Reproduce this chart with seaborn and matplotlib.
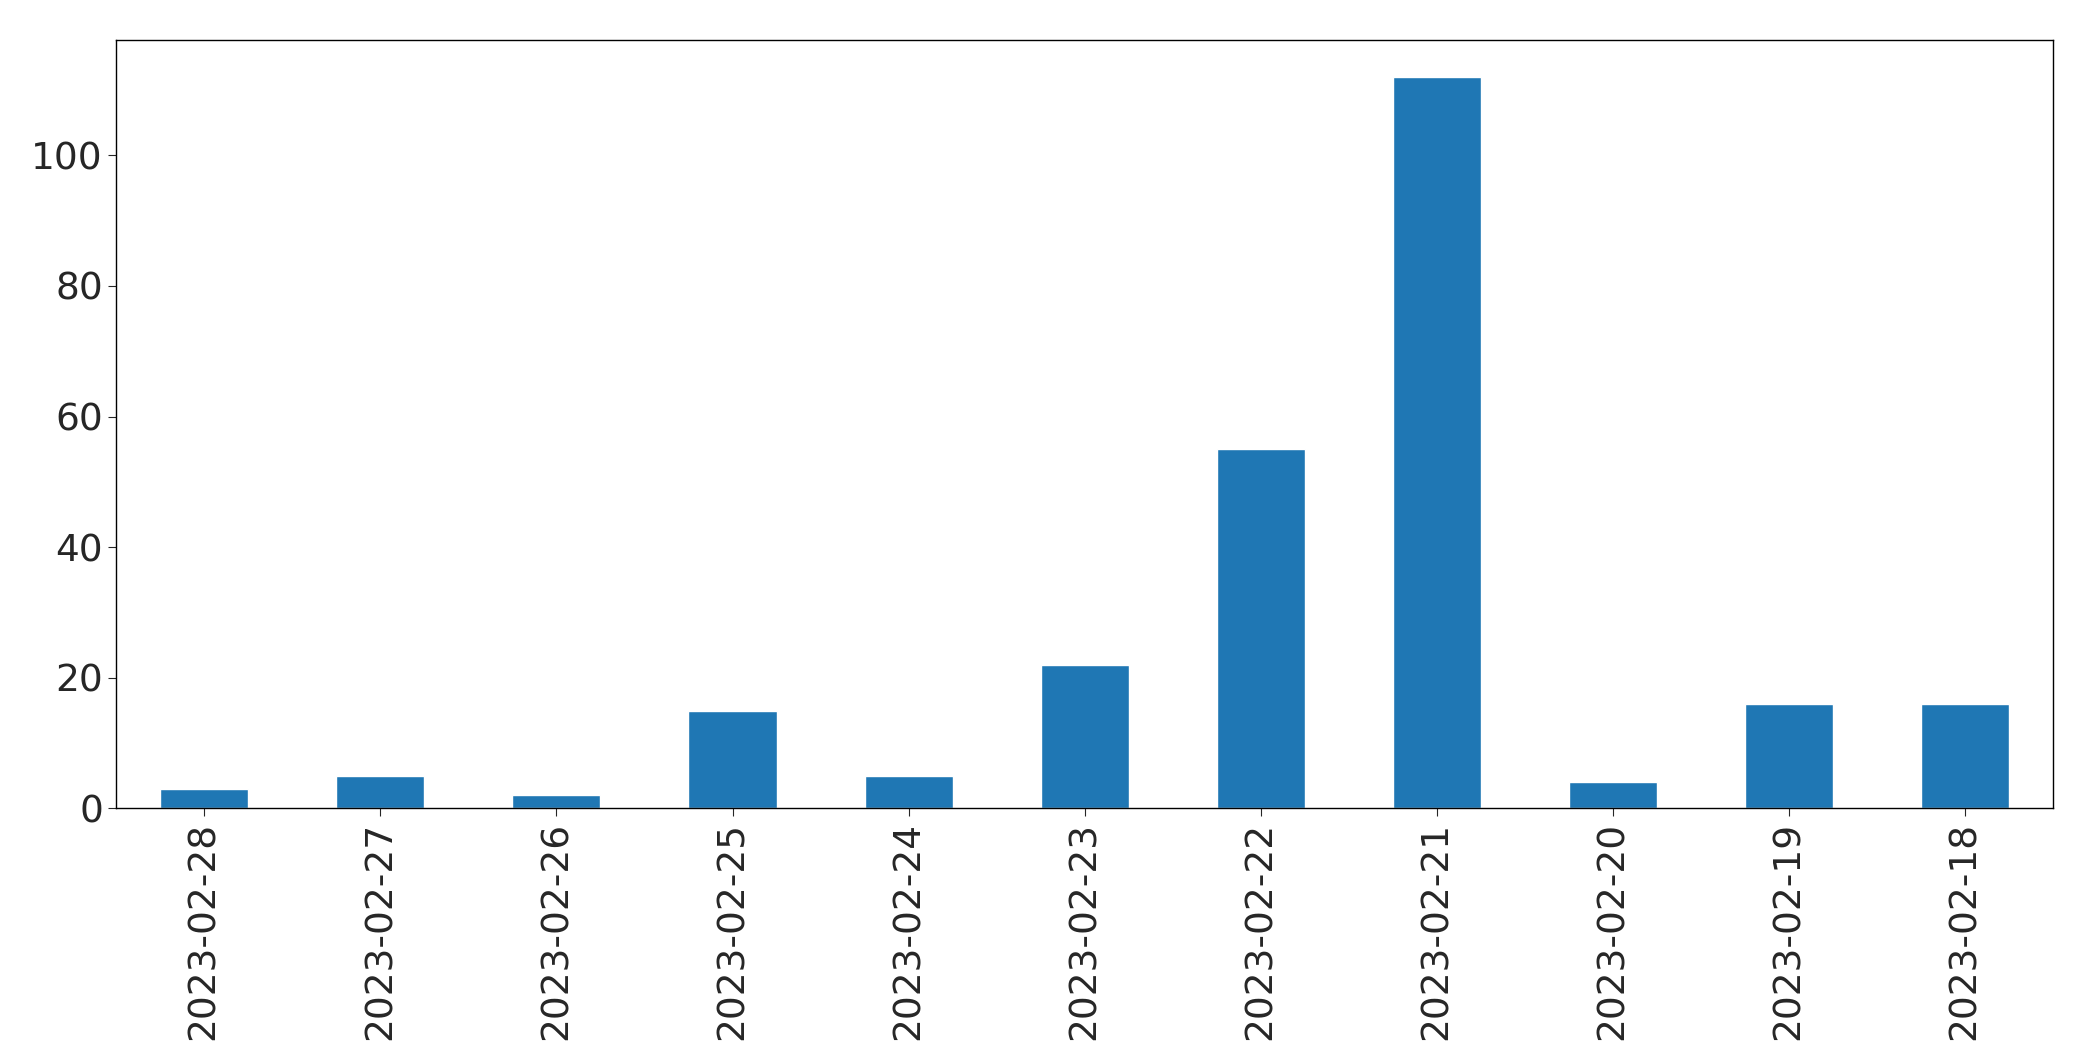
import matplotlib
matplotlib.use("Agg")
import matplotlib.pyplot as plt
import seaborn as sns
import pandas as pd

dates = ["2023-02-28","2023-02-27","2023-02-26","2023-02-25","2023-02-24","2023-02-23",
         "2023-02-22","2023-02-21","2023-02-20","2023-02-19","2023-02-18"]
counts = [3, 5, 2, 15, 5, 22, 55, 112, 4, 16, 16]

sns.set_style("white")
plt.rcParams['font.family'] = ['DejaVu Sans']
df = pd.DataFrame({"date": dates, "count": counts})
fig = plt.figure(figsize=(20.93, 10.61), dpi=100)
ax = fig.add_axes([0.0555, 0.238, 0.9255, 0.724])
sns.barplot(data=df, x="date", y="count", color="#1f77b4", saturation=1, width=0.5, ax=ax)
ax.set_xlim(-0.5, 10.5)
ax.set_ylim(0, 117.6)
ax.set_xlabel("")
ax.set_ylabel("")
ax.tick_params(axis="both", labelsize=27, length=6, left=True, bottom=True)
plt.setp(ax.get_xticklabels(), rotation=90)
for s in ax.spines.values():
    s.set_color("black"); s.set_linewidth(1)
fig.savefig("out.png", dpi=100)
